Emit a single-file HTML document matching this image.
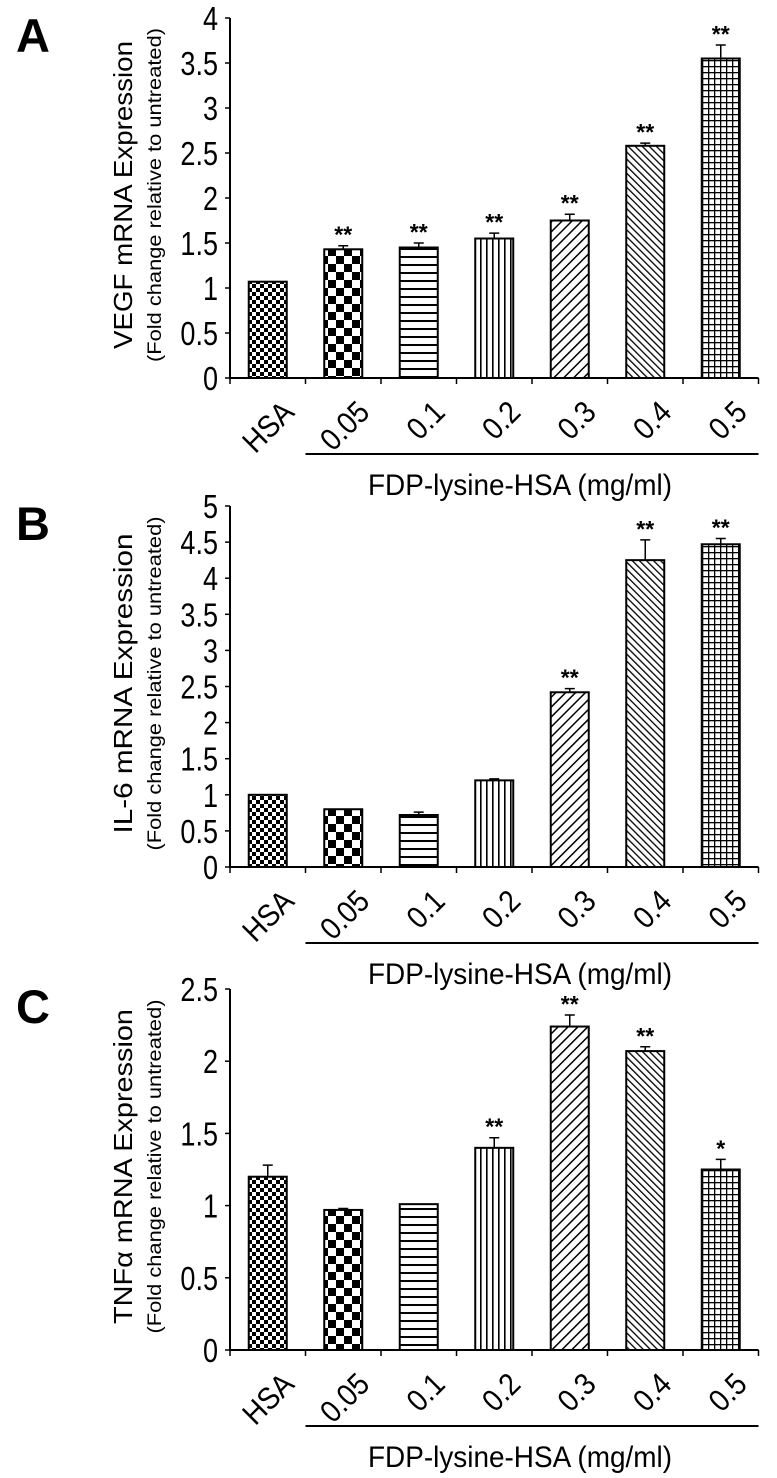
<!DOCTYPE html>
<html><head><meta charset="utf-8"><style>
html,body{margin:0;padding:0;background:#fff;}
svg{display:block;font-family:"Liberation Sans",Arial,sans-serif;}
</style></head><body>
<svg id="fig" width="777" height="1478" viewBox="0 0 777 1478" xmlns="http://www.w3.org/2000/svg">
<defs>
<pattern id="p0" patternUnits="userSpaceOnUse" width="8" height="8"><rect width="8" height="8" fill="#fff"/><rect width="4" height="4" fill="#000"/><rect x="4" y="4" width="4" height="4" fill="#000"/></pattern>
<pattern id="p1" patternUnits="userSpaceOnUse" width="16" height="16"><rect width="16" height="16" fill="#fff"/><rect width="8" height="8" fill="#000"/><rect x="8" y="8" width="8" height="8" fill="#000"/></pattern>
<pattern id="p2" patternUnits="userSpaceOnUse" width="8" height="8"><rect width="8" height="8" fill="#fff"/><rect y="0" width="8" height="2" fill="#000"/></pattern>
<pattern id="p3" patternUnits="userSpaceOnUse" width="6" height="6"><rect width="6" height="6" fill="#fff"/><rect x="0" width="1.6" height="6" fill="#000"/></pattern>
<pattern id="p4" patternUnits="userSpaceOnUse" width="7" height="7" patternTransform="rotate(45)"><rect width="7" height="7" fill="#fff"/><rect width="1.5" height="7" fill="#000"/></pattern>
<pattern id="p5" patternUnits="userSpaceOnUse" width="5" height="5" patternTransform="rotate(-45)"><rect width="5" height="5" fill="#fff"/><rect width="1.3" height="5" fill="#000"/></pattern>
<pattern id="p6" patternUnits="userSpaceOnUse" width="6" height="6"><rect width="6" height="6" fill="#fff"/><rect width="6" height="1.3" fill="#000"/><rect width="1.3" height="6" fill="#000"/></pattern>
</defs>
</svg>
<script>
const categories = ["HSA","0.05","0.1","0.2","0.3","0.4","0.5"];
const vegfValues = [1.07,1.43,1.45,1.55,1.75,2.58,3.55];
const vegfErrors = [0,0.04,0.05,0.06,0.07,0.03,0.15];
const vegfSig = ["","**","**","**","**","**","**"];
const il6Values = [1.0,0.8,0.72,1.2,2.42,4.25,4.47];
const il6Errors = [0,0,0.04,0.02,0.05,0.28,0.08];
const il6Sig = ["","","","","**","**","**"];
const tnfValues = [1.2,0.97,1.01,1.4,2.24,2.07,1.25];
const tnfErrors = [0.08,0.01,0,0.07,0.08,0.03,0.07];
const tnfSig = ["","","","**","**","**","*"];
const vegfTicks = ["0","0.5","1","1.5","2","2.5","3","3.5","4"];
const il6Ticks = ["0","0.5","1","1.5","2","2.5","3","3.5","4","4.5","5"];
const tnfTicks = ["0","0.5","1","1.5","2","2.5"];

const NS="http://www.w3.org/2000/svg";
const svg=document.getElementById('fig');
function mk(tag,attrs,parent,text){const e=document.createElementNS(NS,tag);for(const k in attrs)e.setAttribute(k,attrs[k]);if(text!==undefined)e.textContent=text;(parent||svg).appendChild(e);return e;}

const panels=[
 {letter:"A",title:"VEGF mRNA Expression",tlen:308,vals:vegfValues,errs:vegfErrors,sig:vegfSig,ticks:vegfTicks,y0:378,ytop:18,id:"vegf"},
 {letter:"B",title:"IL-6 mRNA Expression",tlen:300,vals:il6Values,errs:il6Errors,sig:il6Sig,ticks:il6Ticks,y0:867,ytop:506,id:"il6"},
 {letter:"C",title:"TNF\u03b1 mRNA Expression",tlen:315,vals:tnfValues,errs:tnfErrors,sig:tnfSig,ticks:tnfTicks,y0:1350,ytop:989,id:"tnf"}
];
const xL=230, step=75.5, bw=38;
panels.forEach(p=>{
  const g=mk('g',{});
  
  
  const maxV=parseFloat(p.ticks[p.ticks.length-1]);
  const y=v=>p.y0-(v/maxV)*(p.y0-p.ytop);
  const xc=i=>xL+step*(i+0.5);
  const L=mk('text',{x:16,y:p.ytop+34,'font-size':47,'font-weight':'bold'},g,p.letter);
  
  
  const cy=(p.y0+p.ytop)/2-3;
  const t1=mk('text',{x:0,y:0,'font-size':26,'text-anchor':'middle',textLength:p.tlen,lengthAdjust:'spacingAndGlyphs',transform:`translate(132,${cy}) rotate(-90)`},g,p.title);
  
  
  const t2=mk('text',{x:0,y:0,'font-size':19,'text-anchor':'middle',textLength:334,lengthAdjust:'spacingAndGlyphs',transform:`translate(161,${cy}) rotate(-90)`},g,"(Fold change relative to untreated)");
  
  
  p.vals.forEach((v,i)=>{
    const top=y(v);
    const r=mk('rect',{x:xc(i)-bw/2,y:top,width:bw,height:p.y0-top,fill:`url(#p${i})`,stroke:'#000','stroke-width':2},g);
    
    
    const e=p.errs[i];
    if(e>0){
      const ey=y(v+e);
      const el=mk('path',{d:`M${xc(i)} ${top}V${ey}M${xc(i)-5} ${ey}H${xc(i)+5}`,stroke:'#000','stroke-width':1.5,fill:'none'},g);
      
      
    }
    if(p.sig[i]){
      const st=mk('text',{x:xc(i),y:y(v+e)-3,'font-size':23,'text-anchor':'middle','font-weight':'bold'},g,p.sig[i]);
      
      
    }
    const xl=mk('text',{x:0,y:0,'font-size':31,'text-anchor':'end',transform:`translate(${xc(i)+28},${p.y0+36}) rotate(-45) scale(0.9,1)`},g,categories[i]);
    
    
  });
  const ax=mk('path',{d:`M${xL} ${p.ytop}V${p.y0}H${xL+step*7}`,stroke:'#000','stroke-width':2,fill:'none'},g);
  
  
  for(let i=0;i<=7;i++) mk('line',{x1:xL+step*i,x2:xL+step*i,y1:p.y0,y2:p.y0+6,stroke:'#000','stroke-width':1.5},g);
  p.ticks.forEach(t=>{
    const yy=y(parseFloat(t));
    mk('line',{x1:xL-5,x2:xL,y1:yy,y2:yy,stroke:'#000','stroke-width':1.5},g);
    const tl=mk('text',{x:0,y:0,'font-size':33,'text-anchor':'end',transform:`translate(${xL-12},${yy+12}) scale(0.82,1)`},g,t);
    
    
  });
  const by=p.y0+76;
  const br=mk('line',{x1:xL+step,x2:xL+step*7,y1:by,y2:by,stroke:'#000','stroke-width':2},g);
  
  
  const xt=mk('text',{x:368,y:p.y0+117,'font-size':30,textLength:304,lengthAdjust:'spacingAndGlyphs'},g,"FDP-lysine-HSA (mg/ml)");
  
  
});
</script>
</body></html>
